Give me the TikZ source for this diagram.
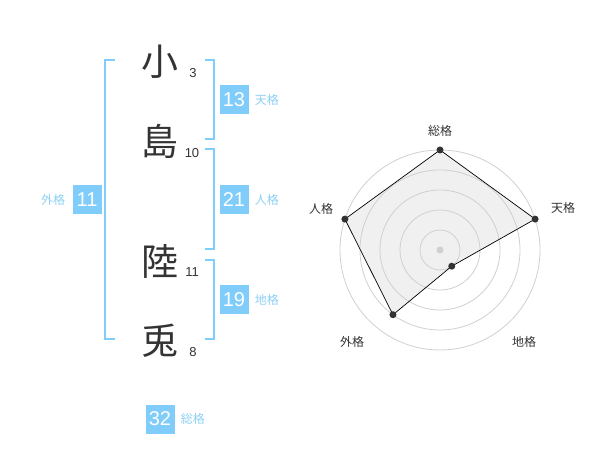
\documentclass[tikz,border=0pt]{standalone}
\usepackage{fontspec}
\setmainfont{Liberation Sans}
\newfontfamily\jpfont{Noto Sans CJK JP}
\usetikzlibrary{positioning}
\definecolor{kakublue}{RGB}{128,204,250}
\definecolor{kakutext}{RGB}{140,208,245}
\definecolor{chargray}{RGB}{51,51,51}
\definecolor{ringgray}{RGB}{208,208,208}
\definecolor{areagray}{RGB}{240,240,240}
\tikzset{
  kanji/.style={font=\jpfont\fontsize{37}{37}\selectfont, text=chargray, inner sep=0pt},
  strokes/.style={font=\fontsize{13}{13}\selectfont, text=chargray, inner sep=0pt},
  kakubox/.style={fill=kakublue, text=white, minimum size=29pt, inner sep=0pt, font=\fontsize{20}{20}\selectfont},
  kakulabel/.style={font=\jpfont\fontsize{12}{12}\selectfont, text=kakutext, inner sep=0pt},
  bracket/.style={draw=kakublue, line width=2pt},
  axislabel/.style={font=\jpfont\fontsize{12}{12}\selectfont, text=chargray, inner sep=0pt},
  ring/.style={draw=ringgray, line width=0.8pt}
}
\begin{document}
\begin{tikzpicture}[x=1pt,y=-1pt]
    \useasboundingbox (0,0) rectangle (600,470);
    % name
    \node [kanji] (k1) at (160,62) {小};
    \node [strokes] (s1) at (193,73) {3};
    \node [kanji] (k2) at (160,141) {島};
    \node [strokes] (s2) at (192,153) {10};
    \node [kanji] (k3) at (160,261) {陸};
    \node [strokes] (s3) at (192,272) {11};
    \node [kanji] (k4) at (160,341) {兎};
    \node [strokes] (s4) at (193,352) {8};
    % brackets
    \draw [bracket] (115,60) -- (105,60) -- (105,339) -- (115,339);
    \draw [bracket] (205,60) -- (214,60) -- (214,139) -- (205,139);
    \draw [bracket] (205,149) -- (214,149) -- (214,249) -- (205,249);
    \draw [bracket] (205,260) -- (214,260) -- (214,339) -- (205,339);
    % kaku
    \node [kakubox] (ten) at (234,100) {13};
    \node [kakulabel, right=6pt of ten] (tenl) {天格};
    \node [kakubox] (jin) at (234,200) {21};
    \node [kakulabel, right=6pt of jin] (jinl) {人格};
    \node [kakubox] (chi) at (234,300) {19};
    \node [kakulabel, right=6pt of chi] (chil) {地格};
    \node [kakubox] (gai) at (87,200) {11};
    \node [kakulabel, left=7pt of gai] (gail) {外格};
    \node [kakubox] (sou) at (160,419) {32};
    \node [kakulabel, right=6pt of sou] (soul) {総格};
    % radar
    \begin{scope}[shift={(440,250)}]
        \fill [areagray] (-90:100) -- (-18:100) -- (54:20) -- (126:80) -- (-162:100) -- cycle;
        \draw [ring] (0,0) circle [radius=20];
        \draw [ring] (0,0) circle [radius=40];
        \draw [ring] (0,0) circle [radius=60];
        \draw [ring] (0,0) circle [radius=80];
        \draw [ring] (0,0) circle [radius=100];
        \fill [ringgray] (0,0) circle [radius=3.5];
        \coordinate (psou) at (-90:100);
        \coordinate (pten) at (-18:100);
        \coordinate (pchi) at (54:20);
        \coordinate (pgai) at (126:80);
        \coordinate (pjin) at (-162:100);
        \draw [black, line width=0.7pt] (psou) -- (pten) -- (pchi) -- (pgai) -- (pjin) -- cycle;
        \fill [chargray] (psou) circle [radius=3.5];
        \fill [chargray] (pten) circle [radius=3.5];
        \fill [chargray] (pchi) circle [radius=3.5];
        \fill [chargray] (pgai) circle [radius=3.5];
        \fill [chargray] (pjin) circle [radius=3.5];
    \end{scope}
    \node [axislabel] (asou) at (440,131) {総格};
    \node [axislabel] (aten) at (563,208) {天格};
    \node [axislabel] (ajin) at (321,209) {人格};
    \node [axislabel] (agai) at (352,342) {外格};
    \node [axislabel] (achi) at (524,342) {地格};
\end{tikzpicture}
\end{document}
